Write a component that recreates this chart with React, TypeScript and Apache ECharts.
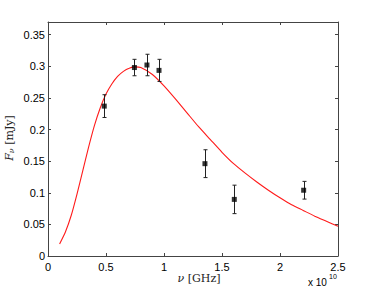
import React, { useEffect, useRef } from "react";
import * as echarts from "echarts";

// frequency in units of 10^10 Hz
const freqExponent = "10";
const xTickValues = [0, 0.5, 1, 1.5, 2, 2.5];
const yTickValues = [0, 0.05, 0.1, 0.15, 0.2, 0.25, 0.3, 0.35];

const obsFreq = [0.485, 0.745, 0.853, 0.957, 1.353, 1.606, 2.204];
const obsFlux = [0.237, 0.298, 0.302, 0.2935, 0.146, 0.0895, 0.104];
const obsErr = [0.018, 0.013, 0.017, 0.0175, 0.022, 0.0225, 0.014];

const modelFreq = [
  0.1, 0.15, 0.2, 0.25, 0.3, 0.35, 0.4, 0.45, 0.5, 0.55, 0.6, 0.65, 0.7, 0.75,
  0.8, 0.9, 1.0, 1.1, 1.2, 1.3, 1.4, 1.5, 1.6, 1.7, 1.8, 1.9, 2.0, 2.1, 2.2,
  2.3, 2.4, 2.5,
];
const modelFlux = [
  0.019, 0.038, 0.064, 0.098, 0.135, 0.172, 0.206, 0.234, 0.256, 0.272, 0.284,
  0.292, 0.297, 0.299, 0.298, 0.287, 0.269, 0.248, 0.226, 0.204, 0.184, 0.164,
  0.146, 0.131, 0.117, 0.104, 0.092, 0.081, 0.072, 0.063, 0.055, 0.047,
];

const axisColor = "#444";
const sans = "'Liberation Sans', Arial, sans-serif";
const serif = "'DejaVu Serif', 'Liberation Serif', serif";

const fmt = (v: number) => {
  const r = Math.round(v * 100) / 100;
  return String(r);
};

export default function App() {
  const ref = useRef<HTMLDivElement>(null);

  useEffect(() => {
    if (!ref.current) return;
    const chart = echarts.init(ref.current, undefined, { renderer: "svg" });

    const modelData = modelFreq.map((x, i) => [x, modelFlux[i]]);
    const obsData = obsFreq.map((x, i) => [x, obsFlux[i]]);
    const errData = obsFreq.map((x, i) => [x, obsFlux[i], obsErr[i]]);

    const yMax = 0.37;

    const baseX = {
      type: "value" as const,
      min: xTickValues[0],
      max: xTickValues[xTickValues.length - 1],
      interval: 0.5,
      splitLine: { show: false },
      axisLine: { show: true, onZero: false, lineStyle: { color: axisColor, width: 1 } },
      axisTick: { show: true, inside: true, length: 3, lineStyle: { color: axisColor } },
    };
    const baseY = {
      type: "value" as const,
      min: yTickValues[0],
      max: yMax,
      interval: 0.05,
      splitLine: { show: false },
      axisLine: { show: true, onZero: false, lineStyle: { color: axisColor, width: 1 } },
      axisTick: { show: true, inside: true, length: 3, lineStyle: { color: axisColor } },
    };

    chart.setOption({
      animation: false,
      backgroundColor: "#fff",
      grid: { left: 48, top: 22, width: 290, height: 234, containLabel: false },
      xAxis: [
        {
          ...baseX,
          position: "bottom",
          axisLabel: {
            show: true,
            color: "#000",
            fontFamily: sans,
            fontSize: 11,
            margin: 5,
            formatter: (v: number) => fmt(v),
          },
        },
        {
          ...baseX,
          position: "top",
          axisLabel: { show: false },
        },
      ],
      yAxis: [
        {
          ...baseY,
          position: "left",
          axisLabel: {
            show: true,
            color: "#000",
            fontFamily: sans,
            fontSize: 11,
            margin: 3,
            showMaxLabel: false,
            formatter: (v: number) =>
              yTickValues.some((t) => Math.abs(t - v) < 1e-9) ? fmt(v) : "",
          },
        },
        {
          ...baseY,
          position: "right",
          axisLabel: { show: false },
        },
      ],
      graphic: [
        {
          type: "text",
          x: 9,
          y: 138,
          rotation: Math.PI / 2,
          style: {
            text: "{i|F}{s|ν} [mJy]",
            align: "center",
            verticalAlign: "middle",
            fill: "#222",
            font: `11px ${serif}`,
            rich: {
              i: { fontFamily: serif, fontSize: 11, fontStyle: "italic", fill: "#222" },
              s: { fontFamily: serif, fontSize: 8, fontStyle: "italic", fill: "#222", padding: [5, 0, 0, 0] },
            },
          },
        },
        {
          type: "text",
          x: 199,
          y: 278,
          style: {
            text: "{i|ν} [GHz]",
            align: "center",
            verticalAlign: "middle",
            fill: "#222",
            font: `11px ${serif}`,
            rich: {
              i: { fontFamily: serif, fontSize: 11, fontStyle: "italic", fill: "#222" },
            },
          },
        },
        {
          type: "text",
          x: 308,
          y: 282,
          style: {
            text: "x 10",
            align: "left",
            verticalAlign: "middle",
            fill: "#000",
            font: `10px ${sans}`,
          },
        },
        {
          type: "text",
          x: 329,
          y: 276,
          style: {
            text: freqExponent,
            align: "left",
            verticalAlign: "middle",
            fill: "#000",
            font: `7px ${sans}`,
          },
        },
      ],
      series: [
        {
          type: "line",
          name: "model",
          data: modelData,
          smooth: 0.2,
          showSymbol: false,
          symbol: "none",
          lineStyle: { color: "#ff1a1a", width: 1.1 },
          xAxisIndex: 0,
          yAxisIndex: 0,
          z: 2,
        },
        {
          type: "custom",
          name: "errors",
          data: errData,
          encode: { x: 0, y: 1 },
          xAxisIndex: 0,
          yAxisIndex: 0,
          z: 3,
          renderItem: (_params: any, api: any) => {
            const x = api.value(0);
            const y = api.value(1);
            const e = api.value(2);
            const hi = api.coord([x, y + e]);
            const lo = api.coord([x, y - e]);
            const cx = Math.round(hi[0]) + 0.5;
            const cap = 2;
            const style = { stroke: "#222", lineWidth: 1 };
            return {
              type: "group",
              children: [
                { type: "line", shape: { x1: cx, y1: hi[1], x2: cx, y2: lo[1] }, style },
                { type: "line", shape: { x1: cx - cap, y1: hi[1], x2: cx + cap, y2: hi[1] }, style },
                { type: "line", shape: { x1: cx - cap, y1: lo[1], x2: cx + cap, y2: lo[1] }, style },
              ],
            };
          },
        },
        {
          type: "scatter",
          name: "data",
          data: obsData,
          symbol: "rect",
          symbolSize: 5,
          itemStyle: { color: "#000" },
          xAxisIndex: 0,
          yAxisIndex: 0,
          z: 4,
        },
      ],
    });

    return () => chart.dispose();
  }, []);

  return (
    <div
      ref={ref}
      style={{ position: "absolute", left: 0, top: 0, width: 374, height: 288 }}
    />
  );
}
